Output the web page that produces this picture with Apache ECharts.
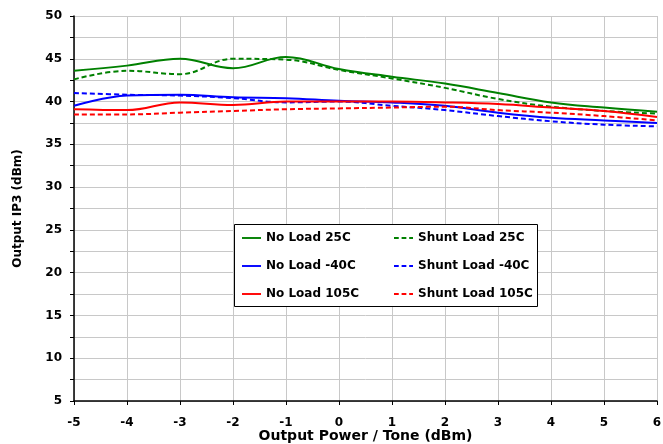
<!DOCTYPE html>
<html>
<head>
<meta charset="utf-8">
<script src="https://cdn.jsdelivr.net/npm/echarts@6/dist/echarts.min.js"></script>
<style>
  html, body { margin: 0; padding: 0; background: #fff; }
  #main { width: 663px; height: 444px; }
</style>
</head>
<body>
<div id="main"></div>
<script>
// x positions (dBm)
const xValues = [-5, -4, -3, -2, -1, 0, 1, 2, 3, 4, 5, 6]

const noLoad25 = [43.6, 44.2, 45.0, 43.9, 45.2, 43.8, 42.9, 42.1, 41.0, 39.9, 39.3, 38.8]
const shunt25 = [42.6, 43.6, 43.2, 45.0, 44.9, 43.7, 42.7, 41.6, 40.3, 39.4, 38.9, 38.6]
const noLoadM40 = [39.5, 40.7, 40.8, 40.5, 40.4, 40.1, 39.9, 39.5, 38.7, 38.1, 37.8, 37.5]
const shuntM40 = [41.0, 40.8, 40.7, 40.4, 39.9, 40.0, 39.5, 39.0, 38.3, 37.7, 37.3, 37.1]
const noLoad105 = [39.1, 39.0, 39.9, 39.6, 40.0, 40.0, 40.0, 39.9, 39.7, 39.3, 38.9, 38.2]
const shunt105 = [38.5, 38.5, 38.7, 38.9, 39.1, 39.2, 39.3, 39.4, 39.0, 38.7, 38.3, 37.8]

const pairs = arr => arr.map((v, i) => [xValues[i], v])

const myChart = echarts.init(document.getElementById('main'))

const font = 'DejaVu Sans, sans-serif'

// legend icons: a plain line and a dashed line
const solidIcon = 'path://M0,0h20v2h-20z'
const dashIcon = 'path://M0,0h5v2h-5zM8,0h5v2h-5zM16,0h4v2h-4z'

function line(name, data, color, dashed) {
  return {
    name: name,
    type: 'line',
    data: pairs(data),
    smooth: 0.4,
    symbol: 'none',
    lineStyle: { color: color, width: 2, type: dashed ? [5, 3] : 'solid' },
    itemStyle: { color: color }
  }
}

const legendText = { fontFamily: font, fontWeight: 'bold', fontSize: 12, color: '#000', lineHeight: 14 }

const option = {
  animation: false,
  grid: { left: 74, right: 6, top: 16, bottom: 43, outerBoundsMode: 'none' },
  xAxis: {
    type: 'value',
    min: -5,
    max: 6,
    interval: 1,
    name: 'Output Power / Tone (dBm)',
    nameLocation: 'middle',
    nameGap: 28,
    nameMoveOverlap: false,
    nameTextStyle: { fontFamily: font, fontWeight: 'bold', fontSize: 14, color: '#000' },
    axisLine: { onZero: false, lineStyle: { color: '#000', width: 1.5 } },
    axisTick: { length: 4, lineStyle: { color: '#000' } },
    axisLabel: { fontFamily: font, fontWeight: 'bold', fontSize: 12, color: '#000', margin: 16 },
    splitLine: { show: true, lineStyle: { color: '#c8c8c8', width: 1 } }
  },
  yAxis: {
    type: 'value',
    min: 5,
    max: 50,
    interval: 5,
    name: 'Output IP3 (dBm)',
    nameLocation: 'middle',
    nameGap: 50,
    nameMoveOverlap: false,
    nameTextStyle: { fontFamily: font, fontWeight: 'bold', fontSize: 12, color: '#000' },
    axisLine: { show: true, onZero: false, lineStyle: { color: '#000', width: 1.5 } },
    axisTick: { show: true, length: 4, lineStyle: { color: '#000' } },
    minorTick: { show: true, splitNumber: 2, length: 4, lineStyle: { color: '#000' } },
    axisLabel: { fontFamily: font, fontWeight: 'bold', fontSize: 12, color: '#000', margin: 12 },
    splitLine: { show: true, lineStyle: { color: '#c8c8c8', width: 1 } },
    minorSplitLine: { show: true, lineStyle: { color: '#c8c8c8', width: 1 } }
  },
  graphic: [{
    type: 'rect',
    left: 234,
    top: 224,
    z: 10,
    shape: { width: 303, height: 82 },
    style: { fill: '#fff', stroke: '#000', lineWidth: 1 }
  }],
  legend: [
    {
      data: [
        { name: 'No Load 25C', icon: solidIcon },
        { name: 'No Load -40C', icon: solidIcon },
        { name: 'No Load 105C', icon: solidIcon }
      ],
      orient: 'vertical',
      left: 242,
      top: 231,
      padding: 0,
      itemGap: 14,
      itemWidth: 19,
      itemHeight: 14,
      z: 20,
      textStyle: legendText
    },
    {
      data: [
        { name: 'Shunt Load 25C', icon: dashIcon },
        { name: 'Shunt Load -40C', icon: dashIcon },
        { name: 'Shunt Load 105C', icon: dashIcon }
      ],
      orient: 'vertical',
      left: 394,
      top: 231,
      padding: 0,
      itemGap: 14,
      itemWidth: 19,
      itemHeight: 14,
      z: 20,
      textStyle: legendText
    }
  ],
  series: [
    line('No Load 25C', noLoad25, '#008000', false),
    line('Shunt Load 25C', shunt25, '#008000', true),
    line('No Load -40C', noLoadM40, '#0000ff', false),
    line('Shunt Load -40C', shuntM40, '#0000ff', true),
    line('No Load 105C', noLoad105, '#ff0000', false),
    line('Shunt Load 105C', shunt105, '#ff0000', true)
  ]
}

myChart.setOption(option)

window.addEventListener('resize', function () {
  myChart.resize()
})
</script>
</body>
</html>
